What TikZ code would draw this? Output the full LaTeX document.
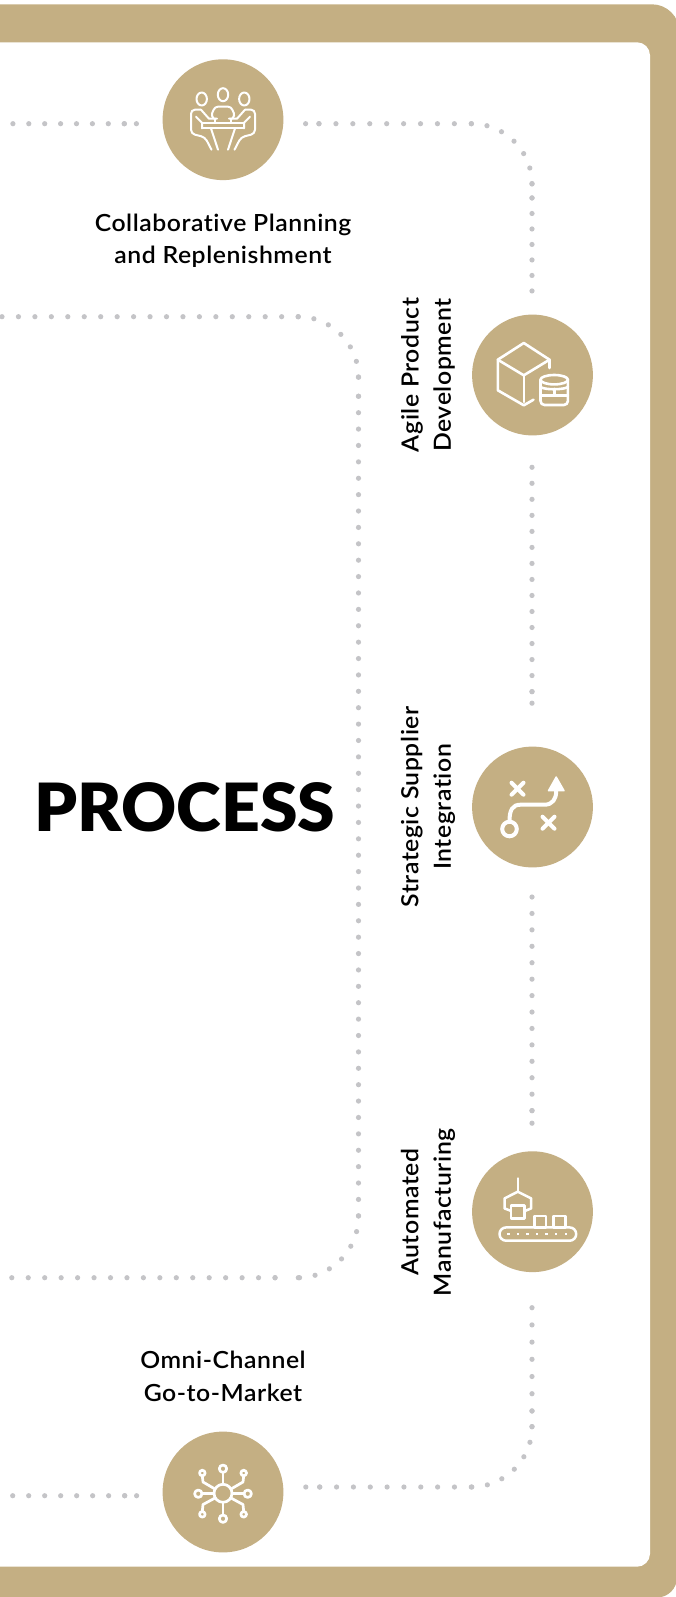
\documentclass[tikz,border=0pt]{standalone}
\usepackage{fontspec}
\usepackage{graphicx}
\setmainfont{Lato}[UprightFont=* Semibold,FakeStretch=1.05,LetterSpace=2.3,Ligatures=NoCommon]
\newfontfamily\headfont{Lato}[UprightFont=* Black,FakeStretch=1.02]
\definecolor{tan}{HTML}{C4AF83}
\definecolor{dotgrey}{HTML}{C4C4C7}
\tikzset{
  stepcirc/.style={circle,fill=tan,minimum size=120.8pt,inner sep=0pt,draw=none},
  dotline/.style={line width=5.2pt,line cap=round,draw=dotgrey},
  icon/.style={draw=white,line width=2pt,line cap=round,line join=round},
  lab/.style={font=\fontsize{23.6}{32.4}\selectfont,align=center,inner sep=0pt,text=black},
  rlab/.style={lab,rotate=90},
}
\begin{document}
\begin{tikzpicture}[x=1pt,y=-1pt]
\useasboundingbox (0,0) rectangle (675,1597);
% frame
\fill[tan] (-5,4.3) -- (652,4.3) .. controls (667,4.3) and (679.5,16.8) .. (679.5,31.8)
  -- (677,1577.5) .. controls (677,1588.5) and (668,1597.5) .. (657,1597.5) -- (-5,1597.5) -- cycle;
\fill[white,rounded corners=13pt] (-30,42.3) rectangle (650,1566.7);
% steps
\node[stepcirc] (c1) at (223,119.7) {};
\node[stepcirc] (c2) at (532.5,375) {};
\node[stepcirc] (c3) at (532.5,807) {};
\node[stepcirc] (c4) at (532.5,1211.7) {};
\node[stepcirc] (c5) at (223,1492) {};
% connector ends
\coordinate (a0) at (12.9,123.7);
\coordinate (a1) at (124.4,123.7);
\coordinate (a2) at (136.5,123.7);
\coordinate (b0) at (305.6,123.7);
\coordinate (b1) at (319,123.7);
\coordinate (b2) at (471.4,123.7);
\coordinate (b3) at (532,184);
\coordinate (b4) at (532,198);
\coordinate (b5) at (532,291);
\coordinate (d0) at (532,467.3);
\coordinate (d1) at (532,691.7);
\coordinate (d2) at (532,703.3);
\coordinate (e0) at (532,897);
\coordinate (e1) at (532,1110.7);
\coordinate (e2) at (532,1123.3);
\coordinate (f0) at (532,1307.7);
\coordinate (f1) at (532,1411);
\coordinate (f2) at (532,1426.7);
\coordinate (f3) at (471.3,1487);
\coordinate (f4) at (319.7,1487);
\coordinate (f5) at (305.7,1487);
\coordinate (g0) at (12.7,1495.7);
\coordinate (g1) at (124.7,1495.7);
\coordinate (g2) at (136.7,1495.7);
\coordinate (h0) at (2,316.7);
\coordinate (h1) at (298.3,316.7);
\coordinate (h2) at (358.5,377.3);
\coordinate (h3) at (358.5,396.3);
\coordinate (h4) at (358.5,1216);
\coordinate (h5) at (298.3,1277.7);
\coordinate (h6) at (275,1277.7);
\coordinate (h7) at (11.7,1277.7);
% dotted connectors
\draw[dotline,dash pattern=on 0pt off 15.9pt] (a0) -- (a1);
\draw[dotline,dash pattern=on 0pt off 12pt] (a1) -- (a2);
\draw[dotline,dash pattern=on 0pt off 13.3pt] (b0) -- (b1);
\draw[dotline,dash pattern=on 0pt off 16.92pt] (b1) -- (b2);
\draw[dotline,dash pattern=on 0pt off 15.75pt] (b2) .. controls (504.8,123.7) and (532,150.7) .. (b3);
\draw[dotline,dash pattern=on 0pt off 13.9pt] (b3) -- (b4);
\draw[dotline,dash pattern=on 0pt off 15.49pt] (b4) -- (b5);
\draw[dotline,dash pattern=on 0pt off 16.02pt] (d0) -- (d1);
\draw[dotline,dash pattern=on 0pt off 11.5pt] (d1) -- (d2);
\draw[dotline,dash pattern=on 0pt off 16.43pt] (e0) -- (e1);
\draw[dotline,dash pattern=on 0pt off 12.5pt] (e1) -- (e2);
\draw[dotline,dash pattern=on 0pt off 17.2pt] (f0) -- (f1);
\draw[dotline,dash pattern=on 0pt off 15.6pt] (f1) -- (f2);
\draw[dotline,dash pattern=on 0pt off 15.75pt] (f2) .. controls (532,1460) and (504.7,1487) .. (f3);
\draw[dotline,dash pattern=on 0pt off 16.84pt] (f3) -- (f4);
\draw[dotline,dash pattern=on 0pt off 13.9pt] (f4) -- (f5);
\draw[dotline,dash pattern=on 0pt off 15.99pt] (g0) -- (g1);
\draw[dotline,dash pattern=on 0pt off 11.9pt] (g1) -- (g2);
\draw[dotline,dash pattern=on 0pt off 16.45pt] (h0) -- (h1);
\draw[dotline,dash pattern=on 0pt off 15.75pt] (h1) .. controls (331.7,316.7) and (358.5,343.9) .. (h2);
\draw[dotline,dash pattern=on 0pt off 18.9pt] (h2) -- (h3);
\draw[dotline,dash pattern=on 0pt off 16.39pt] (h3) -- (h4);
\draw[dotline,dash pattern=on 0pt off 15.75pt] (h4) .. controls (358.5,1250) and (331.7,1277.7) .. (h5);
\draw[dotline,dash pattern=on 0pt off 23.2pt] (h5) -- (h6);
\draw[dotline,dash pattern=on 0pt off 16.45pt] (h6) -- (h7);
% icon 1: meeting
\begin{scope}[shift={(c1)},icon]
  \draw (-21.3,-20.7) ellipse (5.2pt and 6.5pt);
  \draw (0,-25) ellipse (5.2pt and 6.5pt);
  \draw (21.3,-20.7) ellipse (5.2pt and 6.5pt);
  \draw[rounded corners=3pt] (-9,-1) -- (-12,-4) -- (-8,-13) -- (8,-13) -- (12,-4) -- (9,-1);
  \draw (-8,-1) -- (-8,3) -- (8,3) -- (8,-1);
  \draw (-21,8.7) -- (21,8.7);
  \foreach \m in {1,-1} {
    \begin{scope}[xscale=\m]
      \draw[rounded corners=4pt] (-22,-10) -- (-32,-10) -- (-32,14) -- (-18,17.5) -- (-11.5,30);
      \draw (-22,-10) -- (-14,-1) -- (-6,-1);
      \draw (-27,-3) -- (-21,3) -- (-21,8.7);
      \draw (-21,3) -- (-8,3);
      \draw (-12,8.7) -- (-5,30);
    \end{scope}
  }
\end{scope}
% icon 2: cube and database
\begin{scope}[shift={(c2)},icon,line width=2.6pt]
  \draw (17,-7) -- (17,-15.3) -- (-8.7,-32) -- (-34.7,-15.3) -- (-34.7,15.3) -- (-8.7,30.3) -- (1,24.7);
  \draw (-34.7,-15.3) -- (-8.7,0.3) -- (17,-15.3);
  \draw (-8.7,0.3) -- (-8.7,27);
  \draw (21.7,4.7) ellipse (13.7pt and 4.7pt);
  \draw[rounded corners=4pt] (8,4.7) -- (8,30) -- (35.4,30) -- (35.4,4.7);
  \draw (8,12) .. controls (12,15) and (31,15) .. (35.4,12);
  \draw (8,20.5) -- (35.4,20.5);
  \draw (21.7,14) -- (21.7,20.5);
\end{scope}
% icon 3: strategy
\begin{scope}[shift={(c3)},icon,line width=4pt]
  \draw (-21,-24.3) -- (-9,-12.3);
  \draw (-21,-12.3) -- (-9,-24.3);
  \draw (10,9.7) -- (22,21.7);
  \draw (10,21.7) -- (22,9.7);
  \draw (-23,22) circle (7.3pt);
  \draw (-23,14) .. controls (-23,3) and (-20,-2.3) .. (-12,-2.3) -- (12,-2.3) .. controls (20,-2.3) and (23.7,-8) .. (23.7,-16);
  \fill[white,draw=white,line width=1.5pt] (23.7,-30) -- (31.5,-16.3) -- (16,-16.3) -- cycle;
\end{scope}
% icon 4: production line
\begin{scope}[shift={(c4)},icon,line width=2.5pt]
  \draw (-14.7,-33.3) -- (-14.7,-20);
  \draw (-22,-1) -- (-28,-3.3) -- (-28,-13.3) -- (-14.7,-20) -- (-1.3,-13.3) -- (-1.3,-3.3) -- (-7,-1);
  \draw (-21.3,-6) rectangle (-8,6.7);
  \draw (2,4.3) rectangle (13.7,15.7);
  \draw (21,4.3) rectangle (33,15.7);
  \draw[rounded corners=6.6pt] (-33,15.7) rectangle (43.7,29);
  \foreach \x in {-24,-14.7,-5,4.3,14,23.7,33.3} \fill[white] (\x-1.2,21.1) rectangle (\x+1.2,23.6);
\end{scope}
% icon 5: network
\begin{scope}[shift={(c5)},icon,line width=2.7pt]
  \draw (0,1.3) circle (9pt);
  \draw (0,-23.3) circle (3.7pt);
  \draw (0,26.7) circle (3.7pt);
  \draw (-24.7,1.7) circle (3.7pt);
  \draw (24.7,1.7) circle (3.7pt);
  \draw (0,-19.6) -- (0,-7.7);
  \draw (0,10.3) -- (0,23);
  \draw (-21,1.5) -- (-9,1.5);
  \draw (9,1.5) -- (21,1.5);
  \foreach \m in {1,-1} {
    \begin{scope}[xscale=\m]
      \draw (-20.7,-19) circle (2.8pt);
      \draw (-20.7,22.3) circle (2.8pt);
      \draw (-8,-3) -- (-20,-10) -- (-20.7,-16.2);
      \draw (-8,6) -- (-20,12.5) -- (-20.7,19.5);
    \end{scope}
  }
\end{scope}
% labels
\node[lab] (t1) at (223,240.8) {Collaborative Planning\\and Replenishment};
\node[lab] (t5) at (223,1376.2) {Omni-Channel\\Go-to-Market};
\node[rlab] (t2) at (428,375) {Agile Product\\Development};
\node[rlab] (t3) at (428,807) {Strategic Supplier\\Integration};
\node[rlab] (t4) at (428,1212.3) {Automated\\Manufacturing};
\node[anchor=base,inner sep=0pt,font=\headfont\fontsize{66.5}{66.5}\selectfont,text=black] (ttl) at (185,831) {PROCESS};
\end{tikzpicture}
\end{document}
